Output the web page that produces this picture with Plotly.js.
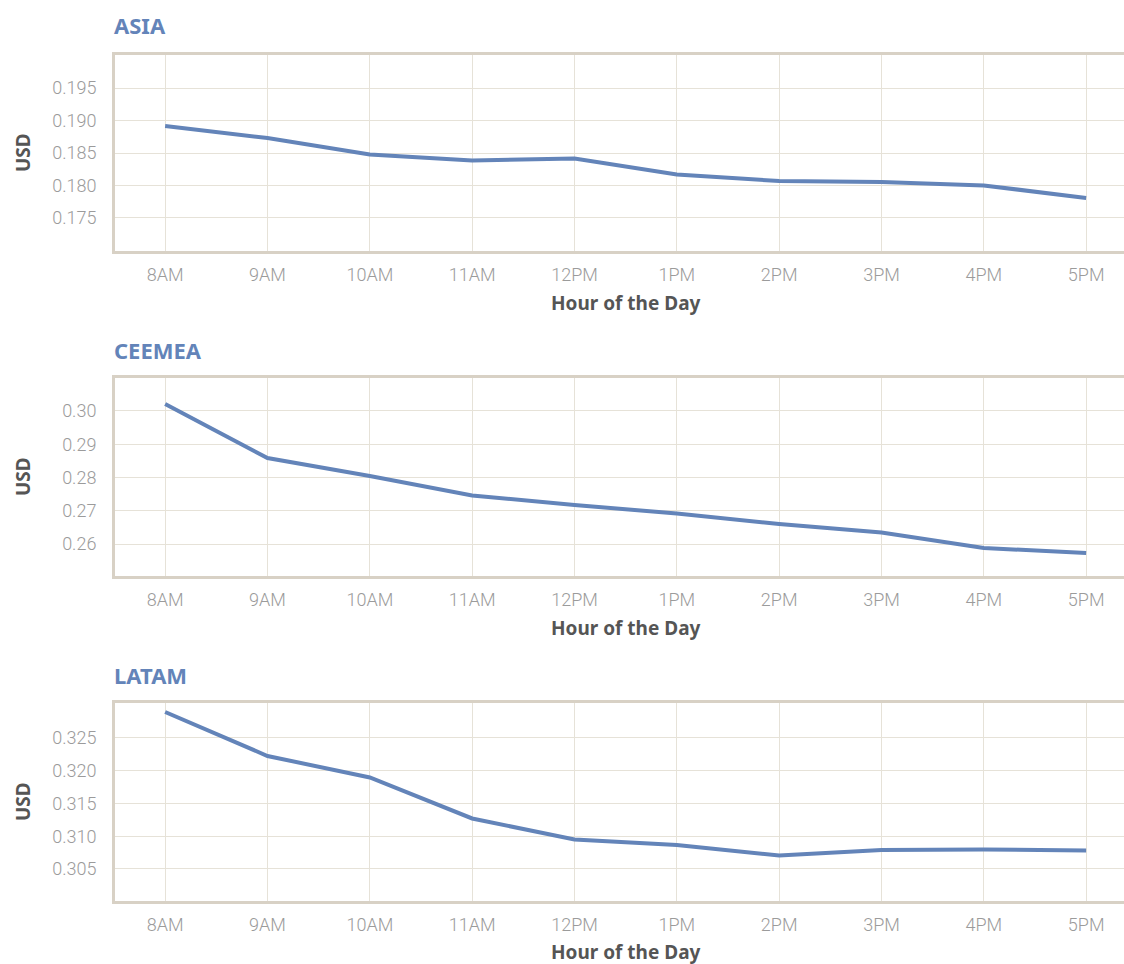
<!DOCTYPE html>
<html>
<head>
<meta charset="utf-8">
<script src="https://cdn.plot.ly/plotly-3.0.1.min.js"></script>
<style>html,body{margin:0;padding:0;background:#fff;}#chart{width:1124px;height:964px;}</style>
</head>
<body>
<div id="chart"></div>
<script>
const hours = ["8AM","9AM","10AM","11AM","12PM","1PM","2PM","3PM","4PM","5PM"];
const regions = ["ASIA","CEEMEA","LATAM"];
const asia = [0.18915,0.18731,0.18477,0.18385,0.18415,0.18169,0.18069,0.18054,0.18000,0.17808];
const ceemea = [0.3021,0.28586,0.28045,0.27459,0.27173,0.26917,0.26602,0.26346,0.2588,0.2573];
const latam = [0.32897,0.32225,0.31897,0.31271,0.3095,0.30866,0.30706,0.3079,0.30798,0.30782];
const yTicks = [
  [0.175,0.180,0.185,0.190,0.195],
  [0.26,0.27,0.28,0.29,0.30],
  [0.305,0.310,0.315,0.320,0.325]
];
const yTickText = [
  ["0.175","0.180","0.185","0.190","0.195"],
  ["0.26","0.27","0.28","0.29","0.30"],
  ["0.305","0.310","0.315","0.320","0.325"]
];
const yRanges = [[0.1699,0.2001],[0.25038,0.30992],[0.30011,0.33034]];
const series = [asia, ceemea, latam];

const H = 964, L = 115, W = 1009;
const panels = [{top:55,bottom:251,title:25,xt:303},{top:378,bottom:576,title:350,xt:628},{top:703,bottom:901,title:675,xt:952}];
const py = v => 1 - v / H;
const px = v => (v - L) / W;

const FONT = "Roboto, 'Noto Sans', sans-serif";
const TFONT = "'Noto Sans', 'Open Sans', sans-serif";
const lineCol = "#d8d1c5";
const gridCol = "#e6e2d8";
const data = [];
const layout = {
  width:1124, height:964, showlegend:false,
  margin:{l:L,r:0,t:0,b:0},
  paper_bgcolor:"#fff", plot_bgcolor:"#fff",
  font:{family:FONT, color:"#999"},
  annotations:[]
};
series.forEach((s,i)=>{
  const n = i===0 ? "" : String(i+1);
  data.push({x:hours, y:s, type:"scatter", mode:"lines", xaxis:"x"+n, yaxis:"y"+n,
    line:{color:"#6384b9", width:4}, hoverinfo:"x+y"});
  const p = panels[i];
  layout["xaxis"+n] = {
    domain:[0,1], anchor:"y"+n, type:"category", range:[-0.49,9.37],
    showline:true, mirror:true, linecolor:lineCol, linewidth:3,
    showgrid:true, gridcolor:gridCol, gridwidth:1, zeroline:false,
    ticks:"", ticklabelstandoff:5, tickfont:{size:18, color:"#9b9b9b", family:FONT, weight:300}
  };
  layout["yaxis"+n] = {
    domain:[py(p.bottom), py(p.top)], anchor:"x"+n, range:yRanges[i],
    tickvals:yTicks[i], ticktext:yTickText[i],
    showline:true, linecolor:lineCol, linewidth:3,
    showgrid:true, gridcolor:gridCol, gridwidth:1, zeroline:false,
    ticks:"", ticklabelstandoff:12, tickfont:{size:18, color:"#9b9b9b", family:FONT, weight:300}
  };
  layout.annotations.push({text:"<b>"+regions[i]+"</b>", xref:"paper", yref:"paper",
    x:px(112), y:py(p.title), xanchor:"left", yanchor:"middle", showarrow:false,
    font:{size:22, color:"#6384b9", family:TFONT}});
  layout.annotations.push({text:"<b>USD</b>", xref:"paper", yref:"paper",
    x:px(23), y:py((p.top+p.bottom)/2), xanchor:"center", yanchor:"middle", textangle:-90, showarrow:false,
    font:{size:19, color:"#555", family:TFONT}});
  layout.annotations.push({text:"<b>Hour of the Day</b>", xref:"paper", yref:"paper",
    x:px(626), y:py(p.xt), xanchor:"center", yanchor:"middle", showarrow:false,
    font:{size:19, color:"#555", family:TFONT}});
});
Plotly.newPlot("chart", data, layout, {displayModeBar:false, responsive:false});
</script>
</body>
</html>
